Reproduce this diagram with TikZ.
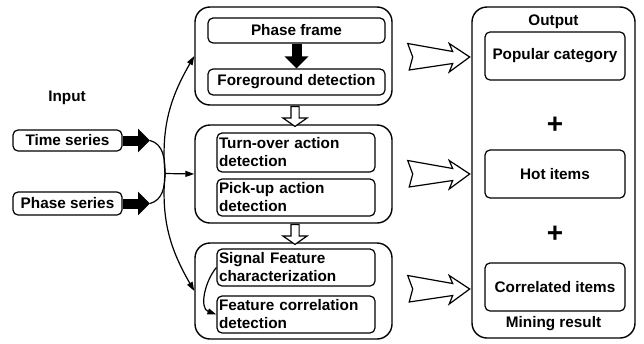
\documentclass[tikz,border=0pt]{standalone}
\usepackage{fontspec}
\setmainfont{Liberation Sans}
\usetikzlibrary{
    arrows.meta,
    shapes.arrows,
    calc,
    positioning
}
\tikzset{
    every node/.style={font=\bfseries\fontsize{15.3}{18}\selectfont},
    group/.style={draw, line width=1.4pt, rounded corners=15pt, minimum width=197pt, inner sep=0pt},
    block/.style={draw, line width=1.2pt, rounded corners=5pt, inner sep=2pt},
    lblock/.style={block, text width=154pt, align=left, minimum height=37pt},
    thin/.style={line width=1.2pt},
    link/.style={thin, -{Triangle[length=9pt,width=6pt]}},
    heavy/.style={line width=10pt, -{Triangle[length=12pt,width=23pt]}},
    openarrow/.style={single arrow, draw, fill=white, thin, inner sep=3.5pt,
        minimum height=20pt, single arrow head extend=8pt, single arrow tip angle=110},
    fatarrow/.pic={
        \draw[thin, fill=white] (0,13.5) -- (5,0) -- (1.5,-13) -- (45,-6.5)
            -- (41.5,-15) -- (62,0) -- (41.5,13.5) -- (45,5.5) -- cycle;
    }
}

\begin{document}
\begin{tikzpicture}[x=1pt, y=1pt]
    \useasboundingbox (0,0) rectangle (644,-343);

    % input
    \node (input) at (67,-98) {Input};
    \node[block, minimum width=109pt, minimum height=21pt] (ts) at (67.5,-140.5) {Time series};
    \node[block, minimum width=109pt, minimum height=23pt] (ps) at (67.5,-203.5) {Phase series};
    \coordinate (tstip) at (150,-140.5);
    \coordinate (pstip) at (150,-203.5);
    \coordinate (j) at (165,-173.5);

    % processing groups
    \node[group, minimum height=98pt] (g1) at (293.5,-56) {};
    \node[block, minimum width=177pt, minimum height=25pt] (pf) at (296.5,-30.5) {Phase frame};
    \node[block, minimum width=177pt, minimum height=26pt] (fg) at (296.5,-82) {Foreground detection};

    \node[group, minimum height=98pt] (g2) at (293.5,-174) {};
    \node[lblock, minimum height=39pt] (to) at (296,-152.5) {Turn-over action\\detection};
    \node[lblock] (pu) at (296,-197.5) {Pick-up action\\detection};

    \node[group, minimum height=96pt] (g3) at (293.5,-291) {};
    \node[lblock] (sf) at (296,-267.5) {Signal Feature\\characterization};
    \node[lblock] (fc) at (296,-314.5) {Feature correlation\\detection};

    % mining result
    \node[group, minimum width=163pt, minimum height=331pt] (out) at (553.5,-172.5) {};
    \node (outlbl) at (553.5,-22) {Output};
    \node[block, minimum width=140pt, minimum height=48pt] (pc) at (555,-56) {Popular category};
    \node[font=\bfseries\fontsize{28}{28}\selectfont] (plus1) at (555,-125) {+};
    \node[block, minimum width=140pt, minimum height=48pt] (hi) at (555,-174) {Hot items};
    \node[font=\bfseries\fontsize{28}{28}\selectfont] (plus2) at (555,-234) {+};
    \node[block, minimum width=140pt, minimum height=48pt] (ci) at (555,-287) {Correlated items};
    \node (mr) at (553.5,-324) {Mining result};

    % connectors
    \draw[heavy] (ts.east) -- (tstip);
    \draw[heavy] (ps.east) -- (pstip);
    \draw[thin] (tstip) to[out=-15, in=90] (j);
    \draw[thin] (pstip) to[out=15, in=-90] (j);
    \draw[link] (j) -- (g2.west);
    \draw[link] (j) to[out=95, in=-120] (g1.west);
    \draw[link] (j) to[out=-95, in=120] (g3.west);
    \draw[heavy] (pf.south) -- (fg.north);
    \draw[link] (sf.west) to[out=-130, in=160] (fc.west);

    \node[openarrow, rotate=-90] (a12) at ($(g1.south)!0.5!(g2.north)+(1.5,0)$) {};
    \node[openarrow, rotate=-90] (a23) at ($(g2.south)!0.5!(g3.north)+(1.5,0)$) {};

    \pic at ($(g1.east)+(15,-1)$) {fatarrow};
    \pic at ($(g2.east)+(15,0)$) {fatarrow};
    \pic at ($(g3.east)+(15,2)$) {fatarrow};
\end{tikzpicture}
\end{document}
